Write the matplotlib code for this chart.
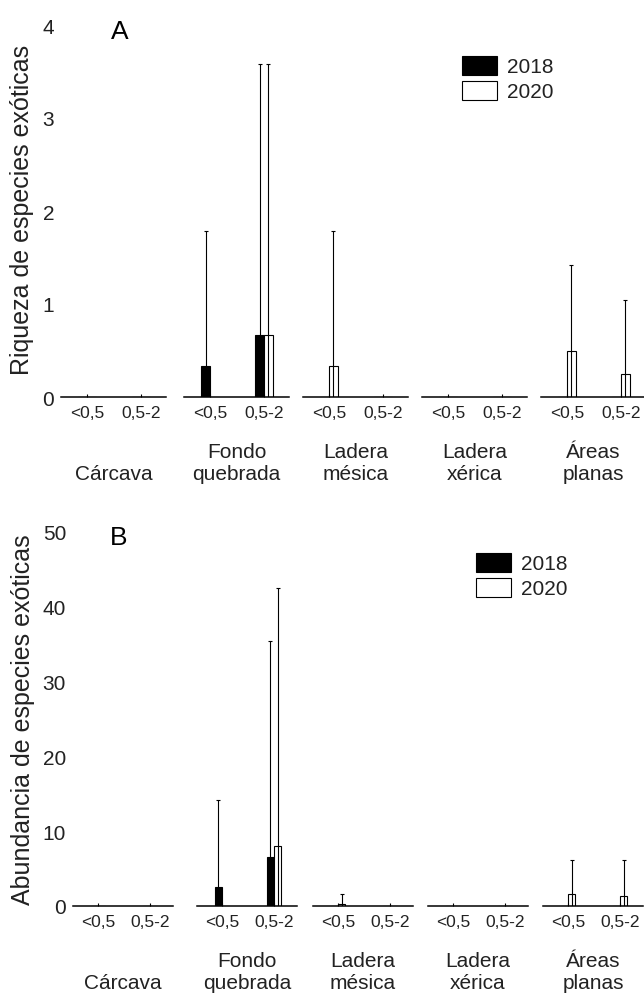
import matplotlib
matplotlib.use("Agg")
import matplotlib.pyplot as plt
import numpy as np
from matplotlib.patches import Patch

plt.rcParams["font.family"] = ["Liberation Sans", "DejaVu Sans"]

# ---- data ---------------------------------------------------------------
groups = ["Cárcava", "Fondo\nquebrada", "Ladera\nmésica", "Ladera\nxérica", "Áreas\nplanas"]
sizes = ["<0,5", "0,5-2"]
years = ["2018", "2020"]

# one value per (group, size), in group order
riq_2018 = [0, 0, 0.33, 0.67, 0, 0, 0, 0, 0, 0]
riq_2018_err = [0, 0, 1.45, 2.91, 0, 0, 0, 0, 0, 0]
riq_2020 = [0, 0, 0, 0.67, 0.33, 0, 0, 0, 0.5, 0.25]
riq_2020_err = [0, 0, 0, 2.91, 1.45, 0, 0, 0, 0.92, 0.79]

abu_2018 = [0, 0, 2.5, 6.6, 0, 0, 0, 0, 0, 0]
abu_2018_err = [0, 0, 11.7, 28.8, 0, 0, 0, 0, 0, 0]
abu_2020 = [0, 0, 0, 8.0, 0.3, 0, 0, 0, 1.6, 1.3]
abu_2020_err = [0, 0, 0, 34.5, 1.3, 0, 0, 0, 4.55, 4.85]

W, H = 644, 995
TXT = "#222222"


def px_axes(left, bottom, width, height):
    """Pixel box (top-left origin) -> figure fraction rect."""
    return [left / W, 1 - bottom / H, width / W, height / H]


def draw_panel(fig, lefts, grp_w, base_y, top_y, ymax, yticks,
               v18, e18, v20, e20, bar_w, xlim):
    axes = []
    for gi, left in enumerate(lefts):
        ax = fig.add_axes(px_axes(left, base_y, grp_w, base_y - top_y))
        x = np.arange(len(sizes))
        a18 = np.array(v18[gi * 2:gi * 2 + 2], dtype=float)
        b18 = np.array(e18[gi * 2:gi * 2 + 2], dtype=float)
        a20 = np.array(v20[gi * 2:gi * 2 + 2], dtype=float)
        b20 = np.array(e20[gi * 2:gi * 2 + 2], dtype=float)

        ax.bar(x, a18, width=-bar_w, align="edge", color="black",
               edgecolor="black", linewidth=0.8)
        ax.bar(x, a20, width=bar_w, align="edge", color="white",
               edgecolor="black", linewidth=0.8)
        m = b18 > 0
        if m.any():
            ax.errorbar(x[m] - bar_w / 2, a18[m], yerr=b18[m], fmt="none",
                        ecolor="black", elinewidth=0.8, capsize=1.5, capthick=0.8)
        m = b20 > 0
        if m.any():
            ax.errorbar(x[m] + bar_w / 2, a20[m], yerr=b20[m], fmt="none",
                        ecolor="black", elinewidth=0.8, capsize=1.5, capthick=0.8)

        ax.set_xlim(*xlim)
        ax.set_ylim(0, ymax)
        for s in ("top", "right", "left"):
            ax.spines[s].set_visible(False)
        ax.spines["bottom"].set_linewidth(1.1)
        ax.set_xticks(x)
        ax.set_xticklabels(sizes, fontsize=12.5, color=TXT)
        ax.tick_params(axis="x", direction="in", length=2.5, width=0.8, pad=6)
        if gi == 0:
            ax.set_yticks(yticks)
            ax.tick_params(axis="y", length=0, pad=5, labelsize=15, labelcolor=TXT)
        else:
            ax.set_yticks([])
        ax.patch.set_alpha(0)
        ax.annotate(groups[gi], xy=(0.5, 0), xycoords="axes fraction",
                    xytext=(0, -62), textcoords="offset points",
                    ha="center", va="bottom", fontsize=15, color=TXT,
                    linespacing=1.2, annotation_clip=False)
        axes.append(ax)
    return axes


fig = plt.figure(figsize=(W / 100, H / 100), dpi=100)

# Panel A: riqueza
draw_panel(fig, [61, 184, 303, 422, 541], 105, 398, 26, 4, [0, 1, 2, 3, 4],
           riq_2018, riq_2018_err, riq_2020, riq_2020_err,
           0.16, (-0.48, 1.46))
# Panel B: abundancia
draw_panel(fig, [73, 197, 313, 428, 543], 100, 907, 533, 50, [0, 10, 20, 30, 40, 50],
           abu_2018, abu_2018_err, abu_2020, abu_2020_err,
           0.14, (-0.48, 1.44))

fig.text(22 / W, 1 - 210 / H, "Riqueza de especies exóticas", rotation=90,
         ha="center", va="center", fontsize=18, color=TXT)
fig.text(23 / W, 1 - 720 / H, "Abundancia de especies exóticas", rotation=90,
         ha="center", va="center", fontsize=18, color=TXT)
fig.text(120 / W, 1 - 32 / H, "A", ha="center", va="center", fontsize=19)
fig.text(119 / W, 1 - 538 / H, "B", ha="center", va="center", fontsize=19)

handles = [Patch(facecolor="black", edgecolor="black", linewidth=0.8),
           Patch(facecolor="white", edgecolor="black", linewidth=0.8)]
for (lx, ly) in [(462, 57), (476, 554)]:
    fig.legend(handles, years, loc="upper left",
               bbox_to_anchor=(lx / W, 1 - ly / H), frameon=False,
               fontsize=15, labelcolor=TXT, handlelength=1.7, handleheight=1.0,
               handletextpad=0.45, labelspacing=0.22, borderpad=0,
               borderaxespad=0)

fig.savefig("out.png", dpi=100)
